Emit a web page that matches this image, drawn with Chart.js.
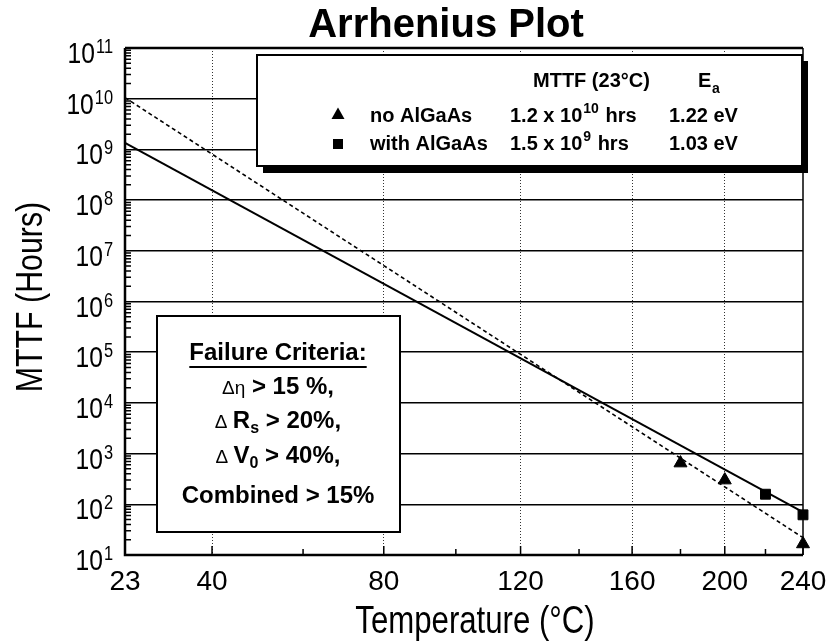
<!DOCTYPE html>
<html>
<head>
<meta charset="utf-8">
<script src="https://cdn.jsdelivr.net/npm/chart.js@4.4.1/dist/chart.umd.min.js"></script>
<style>
  html, body { margin: 0; padding: 0; background: #fff; }
  #wrap { width: 829px; height: 641px; position: relative; }
</style>
</head>
<body>
<div id="wrap"><canvas id="chart"></canvas></div>
<script>
// measured points
const TEMPS_NO = [180, 200, 240];
const MTTF_NO = [650, 300, 16.5];
const TEMPS_WITH = [220, 240];
const MTTF_WITH = [158, 62];

// fitted lines (end points)
const FIT_TEMPS = [23, 240];
const FIT_NO = [1.05e10, 22];
const FIT_WITH = [1.35e9, 70];

// axis ticks
const X_LABEL_TEMPS = [23, 40, 80, 120, 160, 200, 240];
const X_GRID_TEMPS = [40, 80, 120, 160, 200];
const X_MINOR_TEMPS = [60, 100, 140, 180, 220];
const Y_EXPONENTS = [1, 2, 3, 4, 5, 6, 7, 8, 9, 10, 11];

const SANS = '"Liberation Sans", Arial, Helvetica, sans-serif';
const NARROW_X = 0.82; // squeeze for the narrow axis lettering

const inv = t => 1000 / (t + 273.15);
const pts = (ts, vs) => ts.map((t, i) => ({ x: inv(t), y: vs[i] }));

// text squeezed horizontally, like a narrow face
function fillNarrow(ctx, text, x, y, align) {
  ctx.save();
  ctx.translate(x, y);
  ctx.scale(NARROW_X, 1);
  ctx.textAlign = align;
  ctx.fillText(text, 0, 0);
  ctx.restore();
}

function drawRuns(ctx, runs, cx, base) {
  let w = 0;
  runs.forEach(r => { ctx.font = r.font; r.w = ctx.measureText(r.text).width; w += r.w; });
  let x = cx - w / 2;
  ctx.textAlign = 'left';
  ctx.textBaseline = 'alphabetic';
  runs.forEach(r => { ctx.font = r.font; ctx.fillText(r.text, x, base + (r.dy || 0)); x += r.w; });
  return { left: cx - w / 2, right: cx + w / 2 };
}

const decorations = {
  id: 'decorations',
  beforeDatasetsDraw(chart) {
    const { ctx, chartArea: a } = chart;
    ctx.save();
    ctx.strokeStyle = '#000';
    ctx.fillStyle = '#000';

    // frame
    ctx.lineWidth = 2.5;
    ctx.beginPath();
    ctx.moveTo(a.left, a.top); ctx.lineTo(a.right, a.top);
    ctx.moveTo(a.left, a.top); ctx.lineTo(a.left, a.bottom); ctx.lineTo(a.right, a.bottom);
    ctx.stroke();
    ctx.lineWidth = 1.5;
    ctx.beginPath();
    ctx.moveTo(a.right, a.top); ctx.lineTo(a.right, a.bottom);
    ctx.stroke();

    // inner ticks
    const xs = chart.scales.x, ys = chart.scales.y;
    ctx.lineWidth = 1.5;
    ctx.beginPath();
    X_MINOR_TEMPS.forEach(t => {
      const px = xs.getPixelForValue(inv(t));
      ctx.moveTo(px, a.bottom); ctx.lineTo(px, a.bottom - 6);
    });
    X_LABEL_TEMPS.forEach(t => {
      const px = xs.getPixelForValue(inv(t));
      ctx.moveTo(px, a.bottom); ctx.lineTo(px, a.bottom - 9);
    });
    for (let e = 1; e < 11; e++) {
      for (let m = 2; m <= 9; m++) {
        const py = ys.getPixelForValue(m * Math.pow(10, e));
        ctx.moveTo(a.left, py); ctx.lineTo(a.left + 6, py);
      }
    }
    ctx.stroke();

    // legend box with shadow
    ctx.fillRect(263, 61, 545, 112);
    ctx.fillStyle = '#fff';
    ctx.fillRect(257, 55, 545, 111);
    ctx.lineWidth = 2;
    ctx.strokeRect(257, 55, 545, 111);
    ctx.fillStyle = '#000';

    ctx.textBaseline = 'alphabetic';
    ctx.textAlign = 'left';
    const bold = '700 20px ' + SANS;
    const boldSm = '700 14px ' + SANS;
    ctx.font = bold;
    ctx.fillText('MTTF (23°C)', 533, 87);
    ctx.fillText('E', 698, 87);
    ctx.font = boldSm;
    ctx.fillText('a', 712, 93);

    // markers
    ctx.beginPath();
    ctx.moveTo(338, 107.5); ctx.lineTo(344.5, 119); ctx.lineTo(331.5, 119); ctx.closePath();
    ctx.fill();
    ctx.fillRect(333, 139, 10, 10);

    const rows = [
      { name: 'no AlGaAs', mant: '1.2 x 10', exp: '10', ea: '1.22 eV', base: 122 },
      { name: 'with AlGaAs', mant: '1.5 x 10', exp: '9', ea: '1.03 eV', base: 150 }
    ];
    rows.forEach(r => {
      ctx.font = bold;
      ctx.fillText(r.name, 370, r.base);
      ctx.fillText(r.mant, 510, r.base);
      let x = 510 + ctx.measureText(r.mant).width + 1;
      ctx.font = boldSm;
      ctx.fillText(r.exp, x, r.base - 9);
      x += ctx.measureText(r.exp).width + 1;
      ctx.font = bold;
      ctx.fillText(' hrs', x, r.base);
      ctx.fillText(r.ea, 669, r.base);
    });

    // failure criteria box
    ctx.fillStyle = '#fff';
    ctx.fillRect(157, 316, 243, 216);
    ctx.lineWidth = 2;
    ctx.strokeRect(157, 316, 243, 216);
    ctx.fillStyle = '#000';
    const fb = '700 24px ' + SANS;
    const fs = '700 16px ' + SANS;
    const greek = '400 19px ' + SANS;
    const cx = 278;
    const hd = drawRuns(ctx, [{ text: 'Failure Criteria:', font: fb }], cx, 360);
    ctx.lineWidth = 1.8;
    ctx.beginPath();
    ctx.moveTo(hd.left, 367); ctx.lineTo(hd.right, 367);
    ctx.stroke();
    drawRuns(ctx, [
      { text: 'Δ', font: greek }, { text: 'η', font: greek },
      { text: ' > 15 %,', font: fb }], cx, 394);
    drawRuns(ctx, [
      { text: 'Δ ', font: greek }, { text: 'R', font: fb }, { text: 's', font: fs, dy: 5 },
      { text: ' > 20%,', font: fb }], cx, 428);
    drawRuns(ctx, [
      { text: 'Δ ', font: greek }, { text: 'V', font: fb }, { text: '0', font: fs, dy: 5 },
      { text: ' > 40%,', font: fb }], cx, 463);
    drawRuns(ctx, [{ text: 'Combined > 15%', font: fb }], cx, 503);

    ctx.restore();
  },
  afterDraw(chart) {
    const { ctx } = chart;
    const xs = chart.scales.x, ys = chart.scales.y;
    ctx.save();
    ctx.fillStyle = '#000';
    ctx.textBaseline = 'alphabetic';

    // y tick labels 10^n
    Y_EXPONENTS.forEach(e => {
      const py = ys.getPixelForValue(Math.pow(10, e));
      ctx.font = '20px ' + SANS;
      const ew = ctx.measureText(String(e)).width * NARROW_X;
      fillNarrow(ctx, String(e), 113, py + 5, 'right');
      ctx.font = '30px ' + SANS;
      fillNarrow(ctx, '10', 113 - ew - 1, py + 15, 'right');
    });

    // x tick labels
    ctx.font = '28px ' + SANS;
    ctx.textAlign = 'center';
    X_LABEL_TEMPS.forEach(t => {
      ctx.fillText(String(t), xs.getPixelForValue(inv(t)), 590);
    });

    // axis titles
    ctx.font = '38px ' + SANS;
    fillNarrow(ctx, 'Temperature (°C)', 475, 633, 'center');
    ctx.save();
    ctx.translate(42, 297);
    ctx.rotate(-Math.PI / 2);
    ctx.font = '37px ' + SANS;
    fillNarrow(ctx, 'MTTF (Hours)', 0, 0, 'center');
    ctx.restore();

    // title
    ctx.font = '700 40px ' + SANS;
    ctx.textAlign = 'center';
    ctx.fillText('Arrhenius Plot', 446, 37);
    ctx.restore();
  }
};

new Chart(document.getElementById('chart'), {
  type: 'scatter',
  data: {
    datasets: [
      {
        label: 'with AlGaAs fit',
        data: pts(FIT_TEMPS, FIT_WITH),
        showLine: true,
        borderColor: '#000',
        borderWidth: 2,
        pointRadius: 0
      },
      {
        label: 'no AlGaAs fit',
        data: pts(FIT_TEMPS, FIT_NO),
        showLine: true,
        borderColor: '#000',
        borderWidth: 1.6,
        borderDash: [4, 3],
        pointRadius: 0
      },
      {
        label: 'no AlGaAs',
        data: pts(TEMPS_NO, MTTF_NO),
        pointStyle: 'triangle',
        pointRadius: 7.5,
        backgroundColor: '#000',
        borderColor: '#000',
        borderWidth: 1
      },
      {
        label: 'with AlGaAs',
        data: pts(TEMPS_WITH, MTTF_WITH),
        pointStyle: 'rect',
        pointRadius: 7,
        backgroundColor: '#000',
        borderColor: '#000',
        borderWidth: 1
      }
    ]
  },
  options: {
    responsive: true,
    maintainAspectRatio: false,
    animation: false,
    clip: false,
    layout: { padding: { left: 125, top: 48, right: 26, bottom: 86 } },
    plugins: { legend: { display: false }, tooltip: { enabled: false } },
    scales: {
      x: {
        type: 'linear',
        reverse: true,
        min: inv(240),
        max: inv(23),
        afterBuildTicks: s => { s.ticks = X_GRID_TEMPS.map(t => ({ value: inv(t) })); },
        ticks: { display: false },
        grid: { color: '#333', lineWidth: 1, drawTicks: false },
        border: { display: true, width: 0, dash: [1, 2] }
      },
      y: {
        type: 'logarithmic',
        min: 10,
        max: 1e11,
        afterBuildTicks: s => { s.ticks = Y_EXPONENTS.map(e => ({ value: Math.pow(10, e) })); },
        ticks: { display: false },
        grid: { color: '#000', lineWidth: 1.5, drawTicks: false },
        border: { display: true, width: 0 }
      }
    }
  },
  plugins: [decorations]
});
</script>
</body>
</html>
